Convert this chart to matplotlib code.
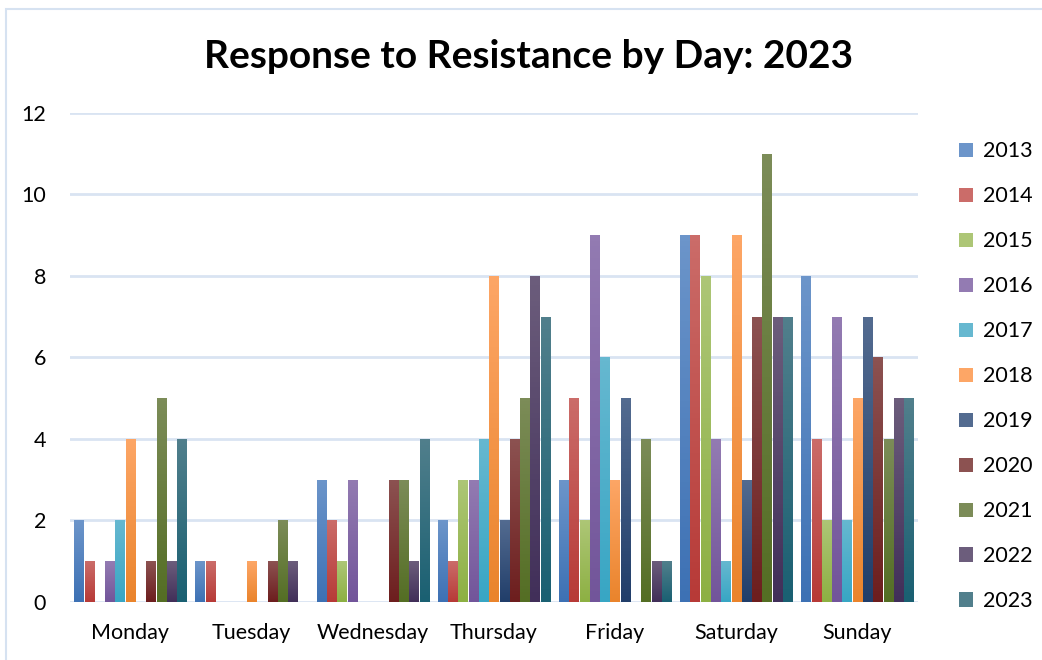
import matplotlib.pyplot as plt
import numpy as np
from matplotlib.colors import LinearSegmentedColormap
from matplotlib.patches import Patch, Rectangle

plt.rcParams['font.family'] = ['Lato', 'DejaVu Sans']

days = ['Monday', 'Tuesday', 'Wednesday', 'Thursday', 'Friday', 'Saturday', 'Sunday']
years = ['2013', '2014', '2015', '2016', '2017', '2018', '2019', '2020', '2021', '2022', '2023']

# counts per year, one value per day (Mon..Sun)
y2013 = [2, 1, 3, 2, 3, 9, 8]
y2014 = [1, 1, 2, 1, 5, 9, 4]
y2015 = [0, 0, 1, 3, 2, 8, 2]
y2016 = [1, 0, 3, 3, 9, 4, 7]
y2017 = [2, 0, 0, 4, 6, 1, 2]
y2018 = [4, 1, 0, 8, 3, 9, 5]
y2019 = [0, 0, 0, 2, 5, 3, 7]
y2020 = [1, 1, 3, 4, 0, 7, 6]
y2021 = [5, 2, 3, 5, 4, 11, 4]
y2022 = [1, 1, 1, 8, 1, 7, 5]
y2023 = [4, 0, 4, 7, 1, 7, 5]
series = [y2013, y2014, y2015, y2016, y2017, y2018, y2019, y2020, y2021, y2022, y2023]

# (light top, dark bottom) for each year
shades = [
    ('#6c95ca', '#3d71b4'), ('#cb6c69', '#b73a37'), ('#adc676', '#8db043'),
    ('#937bb2', '#72559a'), ('#66b8d0', '#38a6c4'), ('#fda666', '#ea842c'),
    ('#536b90', '#213e6a'), ('#8c5251', '#6d1e1e'), ('#7c8c58', '#546e24'),
    ('#6c5d7c', '#412f59'), ('#517f8c', '#1a6072'),
]

fig = plt.figure(figsize=(10.42, 6.6), dpi=100)
ax = fig.add_axes([0.067, 0.088, 0.814, 0.741])

# thin frame around the chart area
fig.patches.append(Rectangle((6 / 1042, -0.05), 1.2, 1.05 - 9 / 660, transform=fig.transFigure,
                             fill=False, edgecolor='#d6e2f1', linewidth=1.5))

x = np.arange(len(days))
slot = 0.934 / len(years)
width = slot * 0.9
grad = np.linspace(1, 0, 64).reshape(-1, 1)

for i, (vals, (top, bot)) in enumerate(zip(series, shades)):
    cmap = LinearSegmentedColormap.from_list('g' + years[i], [bot, top])
    xs = x - 0.467 + slot * i + slot / 2
    bars = ax.bar(xs, vals, width, color=bot, edgecolor='none', zorder=2)
    for b in bars:
        h = b.get_height()
        if h <= 0:
            continue
        bx = b.get_x()
        im = ax.imshow(grad, cmap=cmap, aspect='auto', vmin=0, vmax=1,
                       extent=(bx, bx + b.get_width(), 0, h), zorder=3)
        im.set_clip_path(b)

ax.set_xlim(-0.5, len(days) - 0.5)
ax.set_ylim(0, 12)
ax.set_yticks(range(0, 13, 2))
ax.set_xticks(x)
ax.set_xticklabels(days)
ax.tick_params(length=0, labelsize=15.5, colors='black')
ax.tick_params(axis='y', pad=17)
ax.tick_params(axis='x', pad=15)
for s in ax.spines.values():
    s.set_visible(False)
ax.grid(axis='y', color='#d9e4f2', linewidth=2)
ax.set_axisbelow(True)

fig.text(529 / 1042, 1 - 57 / 660, 'Response to Resistance by Day: 2023',
         fontsize=28, fontweight='bold', ha='center', va='center')

handles = [Patch(facecolor=c[0], edgecolor='none') for c in shades]
leg = fig.legend(handles, years, loc='upper left', bbox_to_anchor=(0.902, 0.815),
                 frameon=False, fontsize=15.5, handlelength=0.65, handleheight=0.65,
                 handletextpad=0.45, labelspacing=1.16)

fig.savefig('out.png', dpi=100)
